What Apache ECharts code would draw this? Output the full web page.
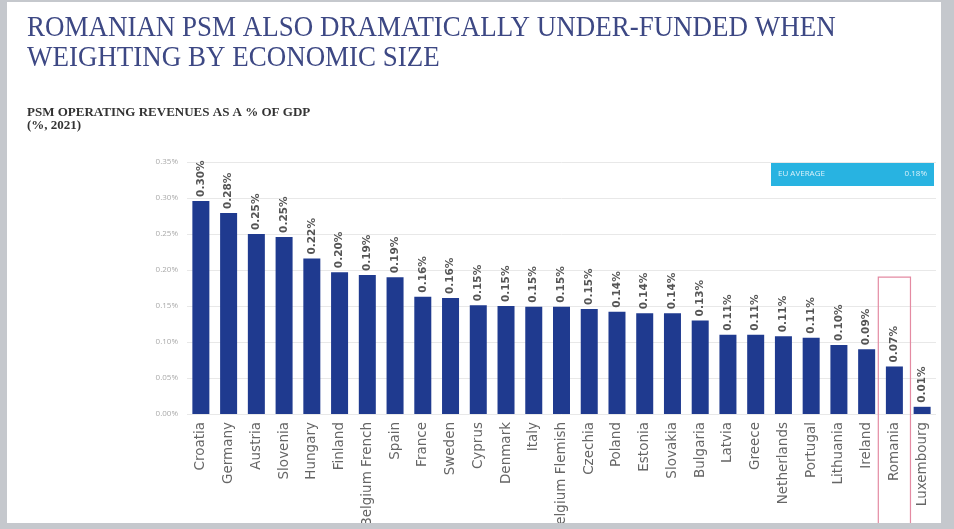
<!DOCTYPE html>
<html>
<head>
<meta charset="utf-8">
<script src="https://cdn.jsdelivr.net/npm/echarts@6/dist/echarts.min.js"></script>
<style>
  html, body { margin: 0; padding: 0; width: 954px; height: 529px; background: #c5c8cd; overflow: hidden; }
  #chart { position: absolute; left: 7px; top: 2px; width: 934px; height: 521px; background: #ffffff; }
</style>
</head>
<body>
<div id="chart"></div>
<script>
const categories = ["Croatia","Germany","Austria","Slovenia","Hungary","Finland","Belgium French","Spain","France","Sweden","Cyprus","Denmark","Italy","Belgium Flemish","Czechia","Poland","Estonia","Slovakia","Bulgaria","Latvia","Greece","Netherlands","Portugal","Lithuania","Ireland","Romania","Luxembourg"];
const values = [0.296,0.279,0.250,0.246,0.216,0.197,0.193,0.190,0.163,0.161,0.151,0.150,0.149,0.149,0.146,0.142,0.140,0.140,0.130,0.110,0.110,0.108,0.106,0.096,0.090,0.066,0.010];
const yTicks = ["0.00%","0.05%","0.10%","0.15%","0.20%","0.25%","0.30%","0.35%"];
const euAverage = "0.18%";
const highlight = "Romania";
const highlightTop = 0.19;
const titleLines = ["ROMANIAN PSM ALSO DRAMATICALLY UNDER-FUNDED WHEN", "WEIGHTING BY ECONOMIC SIZE"];
const subtitleLines = ["PSM OPERATING REVENUES AS A % OF GDP", "(%, 2021)"];

const chart = echarts.init(document.getElementById('chart'), null, {renderer: 'canvas'});
const option = {
  backgroundColor: '#ffffff',
  animation: false,
  grid: { left: 180, right: 5, top: 160, bottom: 109, containLabel: false, outerBoundsMode: 'none' },
  xAxis: {
    type: 'category',
    data: categories,
    axisLine: { show: false },
    axisTick: { show: false },
    axisLabel: { rotate: 90, interval: 0, margin: 8, fontSize: 13.5, color: '#666', fontFamily: 'DejaVu Sans' }
  },
  yAxis: {
    type: 'value',
    min: 0, max: 0.35, interval: 0.05,
    axisLine: { show: false },
    axisTick: { show: false },
    splitLine: { lineStyle: { color: '#e8e8e8', width: 1 } },
    axisLabel: { margin: 9, fontSize: 8, color: '#aaaaaa', fontFamily: 'Open Sans',
      formatter: function (v) { return yTicks[Math.round(v / 0.05)]; } }
  },
  series: [{
    type: 'bar',
    data: values,
    barWidth: 17,
    itemStyle: { color: '#1f3a8f' },
    label: {
      show: true, position: 'top', rotate: 90, align: 'left', verticalAlign: 'middle',
      distance: 4, fontSize: 10.5, fontWeight: 'bold', color: '#555', fontFamily: 'DejaVu Sans',
      formatter: function (p) { return p.value.toFixed(2) + '%'; }
    }
  }],
  graphic: [
    { type: 'text', left: 20, top: 12, scaleX: 0.93, style: { text: titleLines[0], font: '29px "Liberation Serif"', fill: '#3d4884' } },
    { type: 'text', left: 20, top: 42, scaleX: 0.93, style: { text: titleLines[1], font: '29px "Liberation Serif"', fill: '#3d4884' } },
    { type: 'text', left: 20, top: 104, style: { text: subtitleLines[0], font: 'bold 13px "Liberation Serif"', fill: '#333' } },
    { type: 'text', left: 20, top: 117, style: { text: subtitleLines[1], font: 'bold 13px "Liberation Serif"', fill: '#333' } }
  ]
};
chart.setOption(option);

// Annotations positioned through the chart's own scales
const xc = chart.convertToPixel({xAxisIndex: 0}, highlight);
const x0 = chart.convertToPixel({xAxisIndex: 0}, categories[0]);
const x1 = chart.convertToPixel({xAxisIndex: 0}, categories[1]);
const band = x1 - x0;
const yTopBox = chart.convertToPixel({yAxisIndex: 0}, highlightTop);
const yMax = chart.convertToPixel({yAxisIndex: 0}, 0.35);
const xRight = chart.getWidth() - 5;
chart.setOption({
  graphic: option.graphic.concat([
    { type: 'rect', shape: { x: xc - band * 0.58, y: yTopBox, width: band * 1.16, height: chart.getHeight() - yTopBox + 2 },
      style: { fill: 'none', stroke: '#e48aa2', lineWidth: 1.2 }, z: 10 },
    { type: 'rect', shape: { x: 764, y: yMax + 1, width: xRight - 2 - 764, height: 23 },
      style: { fill: '#28b3e1' }, z: 10 },
    { type: 'text', x: 771, y: yMax + 12, style: { text: 'EU AVERAGE', font: '8px "Open Sans"', fill: '#d8f1fa', verticalAlign: 'middle' }, z: 11 },
    { type: 'text', x: xRight - 9, y: yMax + 12, style: { text: euAverage, font: '8px "Open Sans"', fill: '#d8f1fa', align: 'right', verticalAlign: 'middle' }, z: 11 }
  ])
});
</script>
</body>
</html>
